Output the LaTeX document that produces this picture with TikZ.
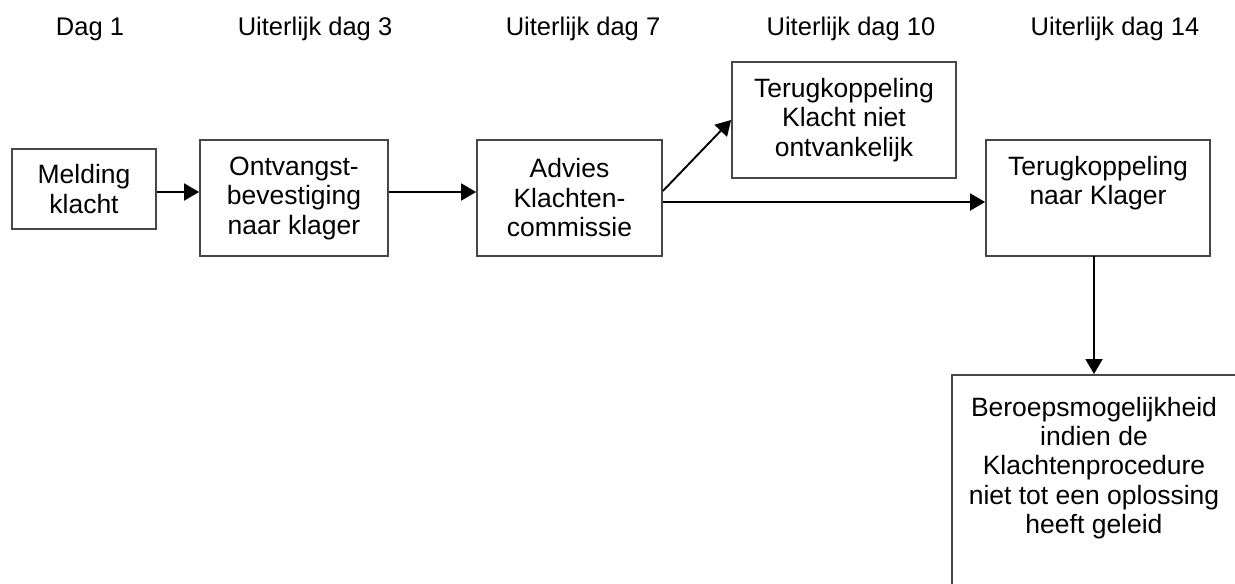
\documentclass[tikz,border=0pt]{standalone}
\usepackage{fontspec}
\setmainfont{Liberation Sans}
\usetikzlibrary{arrows.meta}
\begin{document}
\begin{tikzpicture}[x=1pt,y=-1pt,
  boxstyle/.style={draw=black!72, line width=1.8pt, rectangle, inner sep=0pt, align=center,
    font={\fontsize{26.5}{29.5}\selectfont}},
  boxtext/.style={inner sep=0pt, align=center, font={\fontsize{26.5}{29.2}\selectfont}},
  headtext/.style={inner sep=0pt, anchor=base, font={\fontsize{25.5}{29}\selectfont}},
  conn/.style={draw=black, line width=1.9pt, -{Triangle[length=15pt,width=17pt]}}]
\useasboundingbox (0,0) rectangle (1235,584);
\clip (0,0) rectangle (1235,584);
% header
\node[headtext] (h1) at (90,35) {Dag 1};
\node[headtext] (h2) at (315,35) {Uiterlijk dag 3};
\node[headtext] (h3) at (583,35) {Uiterlijk dag 7};
\node[headtext] (h4) at (851,35) {Uiterlijk dag 10};
\node[headtext] (h5) at (1115,35) {Uiterlijk dag 14};
% boxes
\node[boxstyle, minimum width=144pt, minimum height=80pt] (melding) at (84,189) {Melding\\klacht};
\node[boxstyle, minimum width=188pt, minimum height=116pt] (ontv) at (294,198) {Ontvangst-\\bevestiging\\naar klager};
\node[boxstyle, minimum width=185pt, minimum height=116pt] (advies) at (569.5,198) {Advies\\Klachten-\\commissie};
\node[boxstyle, minimum width=224pt, minimum height=116pt] (terug1) at (844,120) {Terugkoppeling\\Klacht niet\\ontvankelijk};
\node[boxstyle, minimum width=224pt, minimum height=116pt] (terug2) at (1098,198) {};
\node[boxtext, anchor=north] (terug2t) at (1098,156) {Terugkoppeling\\naar Klager};
\node[boxstyle, anchor=north west, minimum width=300pt, minimum height=230pt] (beroep) at (951,374) {};
\node[boxtext, anchor=north] (beroept) at (1094,397) {Beroepsmogelijkheid\\indien de\\Klachtenprocedure\\niet tot een oplossing\\heeft geleid};
% coordinates for connectors
\coordinate (a1) at (melding.east |- 0,192);
\coordinate (a2) at (advies.east |- 0,191);
\coordinate (a3) at (advies.east |- 0,202);
\coordinate (b1) at (1094,256);
% connectors
\draw[conn] (a1) -- (a1 -| ontv.west);
\draw[conn] (ontv.east |- 0,192) -- (advies.west |- 0,192);
\draw[conn] (a2) -- (terug1.west);
\draw[conn] (a3) -- (a3 -| terug2.west);
\draw[conn] (b1) -- (b1 |- beroep.north);
\end{tikzpicture}
\end{document}
